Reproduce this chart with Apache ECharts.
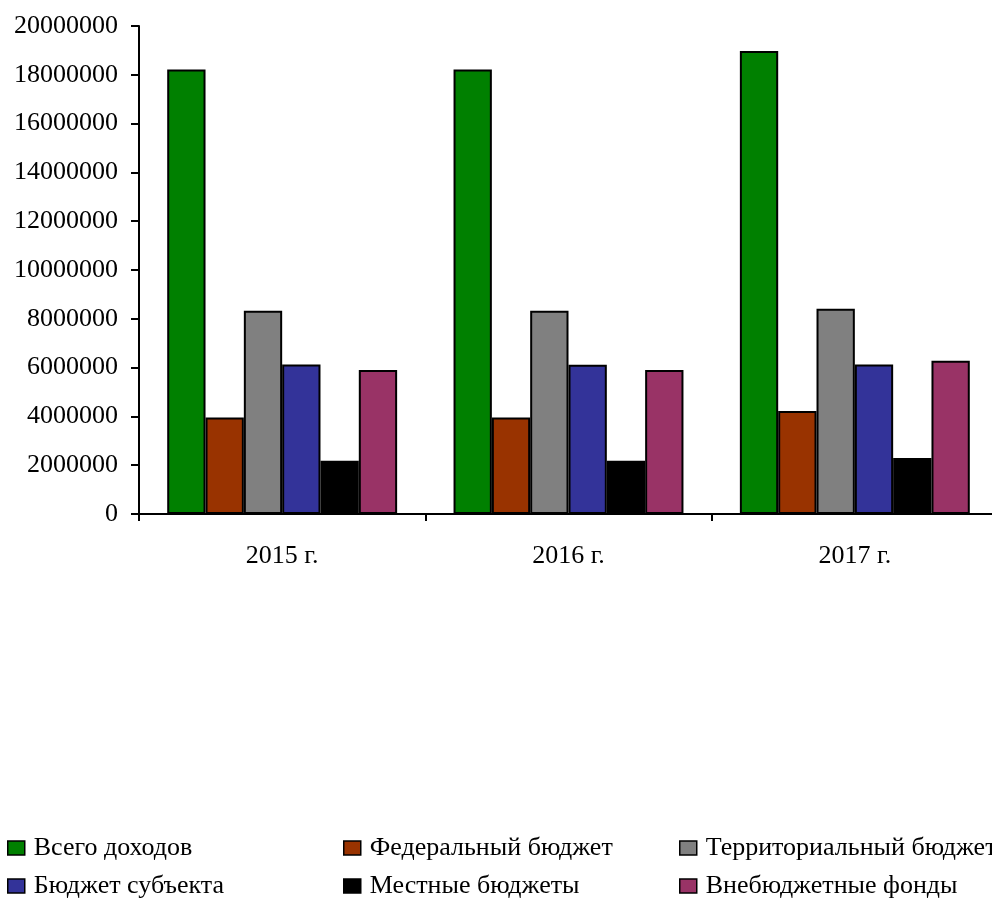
<!DOCTYPE html>
<html>
<head>
<meta charset="utf-8">
<script src="https://cdn.jsdelivr.net/npm/echarts@6/dist/echarts.min.js"></script>
<style>
html,body{margin:0;padding:0;background:#fff;overflow:hidden;width:992px;height:899px;}
#chart{width:1000px;height:899px;}
</style>
</head>
<body>
<div id="chart"></div>
<script>
const categories = ['2015 г.', '2016 г.', '2017 г.'];
const seriesNames = ['Всего доходов', 'Федеральный бюджет', 'Территориальный бюджет', 'Бюджет субъекта', 'Местные бюджеты', 'Внебюджетные фонды'];
const seriesColors = ['#008000', '#993300', '#808080', '#333399', '#000000', '#993366'];
const vTotal = [18220000, 18220000, 18980000];
const vFederal = [3960000, 3960000, 4220000];
const vTerritorial = [8330000, 8330000, 8410000];
const vSubject = [6130000, 6120000, 6130000];
const vLocal = [2180000, 2180000, 2300000];
const vOffBudget = [5900000, 5900000, 6280000];
const yTicks = { min: 0, max: 20000000, interval: 2000000 };

const allValues = [vTotal, vFederal, vTerritorial, vSubject, vLocal, vOffBudget];
const FONT = 'Liberation Serif';

const legendPos = [
  {left: 7, top: 835}, {left: 343, top: 835}, {left: 679, top: 835},
  {left: 7, top: 873}, {left: 343, top: 873}, {left: 679, top: 873}
];

const chart = echarts.init(document.getElementById('chart'), null, {renderer: 'canvas'});
chart.setOption({
  animation: false,
  backgroundColor: '#fff',
  grid: { left: 139, top: 26, width: 859, height: 488, containLabel: false },
  legend: seriesNames.map((n, i) => ({
    data: [n],
    left: legendPos[i].left,
    top: legendPos[i].top,
    orient: 'horizontal',
    padding: 0,
    itemWidth: 17,
    itemHeight: 14,
    itemGap: 0,
    icon: 'rect',
    itemStyle: { borderColor: '#000', borderWidth: 1.5 },
    textStyle: { fontFamily: FONT, fontSize: 26, color: '#000', padding: [0,0,0,4] },
    selectedMode: false
  })),
  xAxis: {
    type: 'category',
    data: categories,
    boundaryGap: true,
    axisLine: { show: true, lineStyle: { color: '#000', width: 2 } },
    axisTick: { show: true, length: 7, lineStyle: { color: '#000', width: 2 } },
    axisLabel: { fontFamily: FONT, fontSize: 26, color: '#000', margin: 29 },
    splitLine: { show: false }
  },
  yAxis: {
    type: 'value',
    min: yTicks.min,
    max: yTicks.max,
    interval: yTicks.interval,
    axisLine: { show: true, lineStyle: { color: '#000', width: 2 } },
    axisTick: { show: true, length: 8, lineStyle: { color: '#000', width: 2 } },
    axisLabel: { fontFamily: FONT, fontSize: 26, color: '#000', margin: 21, formatter: v => String(v) },
    splitLine: { show: false }
  },
  series: seriesNames.map((n, i) => ({
    name: n,
    type: 'bar',
    data: allValues[i],
    barGap: '0%',
    barCategoryGap: '19.7%',
    itemStyle: { color: seriesColors[i], borderColor: '#000', borderWidth: 2 }
  }))
});
</script>
</body>
</html>
